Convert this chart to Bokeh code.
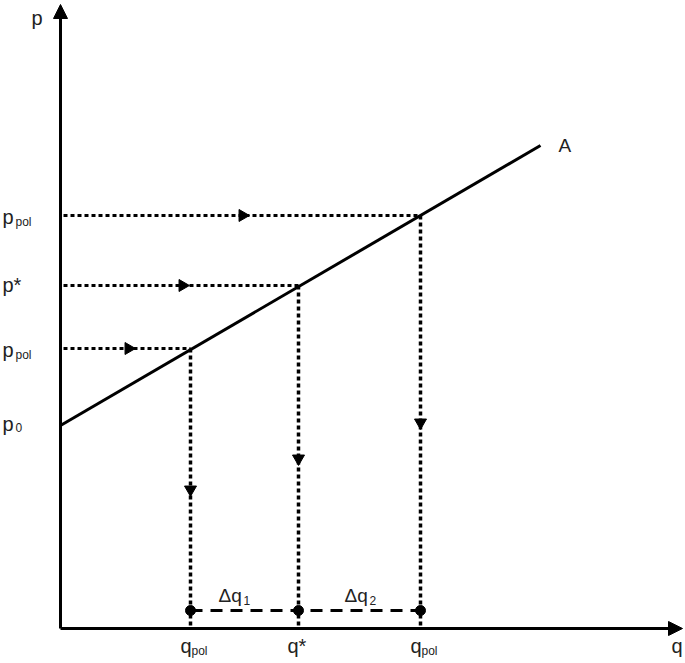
from bokeh.plotting import figure
from bokeh.models import Range1d, Arrow, NormalHead
from bokeh.core.properties import value
from bokeh.embed import file_html
from bokeh.resources import INLINE

# ---- data (economic units) ----
p0 = 2.03                      # intercept of line A
q_pol_low, q_star, q_pol_high = 1.30, 2.38, 3.60
p_pol_low, p_star, p_pol_high = 2.80, 3.43, 4.13
line_A_q = [0.0, 4.80]
line_A_p = [2.03, 4.83]
q_levels = [q_pol_low, q_star, q_pol_high]
p_levels = [p_pol_low, p_star, p_pol_high]
h_arrow_q = [0.68, 1.22, 1.82]       # where the right-pointing heads sit
v_arrow_p = [1.39, 1.70, 2.06]       # where the down-pointing heads sit
delta_level = 0.18
q_axis_max = 6.22
p_axis_max = 6.24

FONT = value("Liberation Sans")
X0, X1 = -0.60, 6.25
Y0, Y1 = -0.35, 6.28
DY = -5   # common vertical text shift

p = figure(width=685, height=663, x_range=Range1d(X0, X1), y_range=Range1d(Y0, Y1),
           output_backend="svg", toolbar_location=None, min_border=0)
p.axis.visible = False
p.grid.visible = False
p.outline_line_color = None
p.background_fill_color = "white"

# axes with arrow heads
p.add_layout(Arrow(end=NormalHead(size=14, fill_color="black", line_color="black"),
                   x_start=0, y_start=0, x_end=q_axis_max, y_end=0,
                   line_width=3, line_color="black"))
p.add_layout(Arrow(end=NormalHead(size=14, fill_color="black", line_color="black"),
                   x_start=0, y_start=0, x_end=0, y_end=p_axis_max,
                   line_width=3, line_color="black"))

# line A
p.line(line_A_q, line_A_p, line_width=3, line_color="black")

# dotted guides
for q, pv in zip(q_levels, p_levels):
    p.line([0.03, q], [pv, pv], line_width=3, line_color="black", line_dash="4 3")
    p.line([q, q], [pv, 0], line_width=3.5, line_color="black", line_dash="4 3")

# arrow heads on guides
p.scatter(h_arrow_q, p_levels, marker="triangle", size=12, angle=-1.5708,
          fill_color="black", line_color="black")
p.scatter(q_levels, v_arrow_p, marker="inverted_triangle", size=12,
          fill_color="black", line_color="black")

# dashed delta line with dots
p.line([q_pol_low, q_pol_high], [delta_level, delta_level], line_width=3,
       line_color="black", line_dash="12 8")
p.scatter(q_levels, [delta_level] * 3, marker="circle", size=10,
          fill_color="black", line_color="black")

def txt(x, y, s, size, xo=0, yo=0, align="left"):
    p.text(x=[x], y=[y], text=[s], text_font=FONT, text_font_size=size,
           text_color="#222222", text_align=align, text_baseline="alphabetic",
           x_offset=xo, y_offset=yo + DY)

# y-axis labels
txt(X0, p_axis_max, "p", "20px", xo=31, yo=18)
for pv, sub in [(p_pol_high, "pol"), (p_pol_low, "pol")]:
    txt(X0, pv, "p", "20px", xo=2, yo=6)
    txt(X0, pv, sub, "12px", xo=15, yo=11)
txt(X0, p_star, "p*", "20px", xo=2, yo=4)
txt(X0, p0, "p", "20px", xo=2, yo=3)
txt(X0, p0, "0", "12px", xo=15, yo=7)

# x-axis labels
for q in [q_pol_low, q_pol_high]:
    txt(q, 0, "q", "20px", xo=-10, yo=22)
    txt(q, 0, "pol", "12px", xo=1, yo=27)
txt(q_star, 0, "q*", "20px", xo=-11, yo=22)
txt(q_axis_max, 0, "q", "20px", xo=-11, yo=22)

# line label
txt(line_A_q[1], line_A_p[1], "A", "19px", xo=18, yo=5)

# delta labels
txt((q_pol_low + q_star) / 2, delta_level, "Δq", "19px", xo=-26, yo=-10)
txt((q_pol_low + q_star) / 2, delta_level, "1", "12px", xo=-1, yo=-5)
txt((q_star + q_pol_high) / 2, delta_level, "Δq", "19px", xo=-15, yo=-10)
txt((q_star + q_pol_high) / 2, delta_level, "2", "12px", xo=10, yo=-5)

open("out.html", "w").write(file_html(p, INLINE))
